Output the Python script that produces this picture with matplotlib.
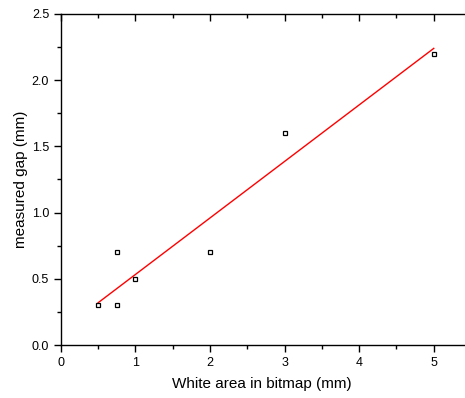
import matplotlib
matplotlib.use("Agg")
import matplotlib.pyplot as plt
from matplotlib.ticker import MultipleLocator

plt.rcParams['font.family'] = ['Liberation Sans', 'DejaVu Sans']

# measured points
white_area = [0.5, 0.75, 0.75, 1.0, 2.0, 3.0, 5.0]
gap = [0.3, 0.3, 0.7, 0.5, 0.7, 1.6, 2.2]

# linear fit line end points
fit_x = [0.5, 5.0]
fit_y = [0.32, 2.24]

fig = plt.figure(figsize=(4.65, 3.98), dpi=100)
ax = fig.add_axes([0.131, 0.133, 0.866, 0.832])

ax.plot(fit_x, fit_y, color='red', lw=1.0, zorder=2)
ax.plot(white_area, gap, ls='none', marker='s', ms=3.2, mfc='white',
        mec='black', mew=0.9, zorder=3)

ax.set_xlim(0, 5.4)
ax.set_ylim(0, 2.5)
ax.xaxis.set_major_locator(MultipleLocator(1))
ax.xaxis.set_minor_locator(MultipleLocator(0.5))
ax.yaxis.set_major_locator(MultipleLocator(0.5))
ax.yaxis.set_minor_locator(MultipleLocator(0.25))
ax.yaxis.set_major_formatter(plt.FuncFormatter(lambda v, p: '%.1f' % v))

ax.spines['right'].set_visible(False)
for s in ['left', 'bottom', 'top']:
    ax.spines[s].set_linewidth(1.0)

ax.tick_params(which='both', direction='out', width=1.0, labelsize=9)
ax.tick_params(which='major', length=5)
ax.tick_params(which='minor', length=3)
ax.tick_params(axis='x', which='both', top=True, labeltop=False)

# top ticks point inward (down)
for t in ax.xaxis.get_major_ticks() + ax.xaxis.get_minor_ticks():
    t.tick2line.set_marker(3)

ax.set_xlabel('White area in bitmap (mm)', fontsize=11, labelpad=6)
ax.set_ylabel('measured gap (mm)', fontsize=11, labelpad=3)

fig.savefig('out.png', dpi=100)
